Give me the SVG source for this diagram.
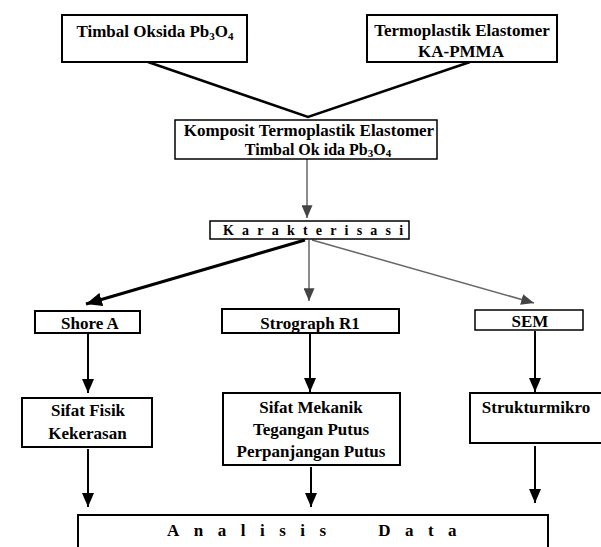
<svg xmlns="http://www.w3.org/2000/svg" width="601" height="547" viewBox="0 0 601 547">
<defs>
<style>
.box{fill:#fff;stroke:#000;stroke-width:2}
.t{font-family:"Liberation Serif","Times New Roman",serif;font-size:17px;font-weight:bold;fill:#000;text-anchor:middle}
.sp{font-family:"Liberation Serif","Times New Roman",serif;font-weight:bold;fill:#000;white-space:pre}
.ln{stroke:#000;stroke-width:2;fill:none}
.gl{stroke:#666;stroke-width:1.5;fill:none}
.sub{font-size:11px}
</style>
<marker id="ah" viewBox="0 0 14 12" refX="14" refY="6" markerWidth="14" markerHeight="12" markerUnits="userSpaceOnUse" orient="auto"><path d="M0,0 L14,6 L0,12 z" fill="#000"/></marker>
<marker id="ahg" viewBox="0 0 14 12" refX="14" refY="6" markerWidth="13" markerHeight="11" markerUnits="userSpaceOnUse" orient="auto"><path d="M0,0 L14,6 L0,12 z" fill="#444"/></marker>
<marker id="ahb" viewBox="0 0 14 12" refX="14" refY="6" markerWidth="16" markerHeight="14" markerUnits="userSpaceOnUse" orient="auto"><path d="M0,0 L14,6 L0,12 z" fill="#000"/></marker>
</defs>
<rect width="601" height="547" fill="#fff"/>
<g id="connectors">
<polyline class="ln" points="148,62 308,117 470,62" style="stroke-width:2.5"/>
<line class="gl" x1="307" y1="159" x2="307" y2="218" marker-end="url(#ahg)"/>
<line class="ln" x1="305" y1="240" x2="86" y2="304" style="stroke-width:3" marker-end="url(#ahb)"/>
<line class="gl" x1="309" y1="240" x2="309" y2="301" marker-end="url(#ahg)"/>
<line class="gl" x1="312" y1="240" x2="534" y2="303" marker-end="url(#ahg)"/>
<line class="ln" x1="88" y1="334" x2="88" y2="393" marker-end="url(#ah)"/>
<line class="ln" x1="310" y1="334" x2="310" y2="392" marker-end="url(#ah)"/>
<line class="ln" x1="535" y1="331" x2="535" y2="392" marker-end="url(#ah)"/>
<line class="ln" x1="88" y1="449" x2="88" y2="507" marker-end="url(#ah)"/>
<line class="ln" x1="311" y1="467" x2="311" y2="507" marker-end="url(#ah)"/>
<line class="ln" x1="535" y1="446" x2="535" y2="503" marker-end="url(#ah)"/>
</g>
<g id="n-timbal"><rect class="box" x="62" y="15" width="185" height="47"/><text class="t" x="155" y="37">Timbal Oksida Pb<tspan class="sub" dy="3">3</tspan><tspan dy="-3">O</tspan><tspan class="sub" dy="3">4</tspan></text></g>
<g id="n-termo"><rect class="box" x="367" y="15" width="190" height="47"/><text class="t" x="462" y="36">Termoplastik Elastomer</text><text class="t" x="461" y="57">KA-PMMA</text></g>
<g id="n-komposit"><rect class="box" x="175" y="120" width="262" height="39" style="stroke-width:1.5"/><text class="t" x="309" y="136">Komposit Termoplastik Elastomer</text><text class="t" x="318" y="155" style="font-size:16px">Timbal Ok ida Pb<tspan class="sub" dy="2">3</tspan><tspan dy="-2">O</tspan><tspan class="sub" dy="2">4</tspan></text></g>
<g id="n-karakterisasi"><rect class="box" x="210" y="221" width="199" height="18" style="stroke-width:1.5"/><text class="sp" x="223" y="235" font-size="14" letter-spacing="8.2">Karakterisasi</text></g>
<g id="n-shore"><rect class="box" x="35" y="311" width="105" height="22"/><text class="t" x="90" y="329">Shore A</text></g>
<g id="n-strograph"><rect class="box" x="222" y="309" width="177" height="24"/><text class="t" x="310" y="329">Strograph R1</text></g>
<g id="n-sem"><rect class="box" x="475" y="310" width="108" height="20" style="stroke-width:1.5"/><text class="t" x="530" y="327">SEM</text></g>
<g id="n-fisik"><rect class="box" x="22" y="398" width="130" height="49"/><text class="t" x="88" y="416">Sifat Fisik</text><text class="t" x="87.5" y="439">Kekerasan</text></g>
<g id="n-mekanik"><rect class="box" x="223" y="393" width="177" height="72"/><text class="t" x="311" y="413">Sifat Mekanik</text><text class="t" x="311" y="435">Tegangan Putus</text><text class="t" x="311" y="457">Perpanjangan Putus</text></g>
<g id="n-struktur"><rect class="box" x="470" y="393" width="140" height="50"/><text class="t" x="536" y="413">Strukturmikro</text></g>
<g id="n-analisis"><rect class="box" x="78" y="515" width="470" height="40"/><text class="sp" x="167" y="536" font-size="17" letter-spacing="14.5">Analisis  Data</text></g>
</svg>
